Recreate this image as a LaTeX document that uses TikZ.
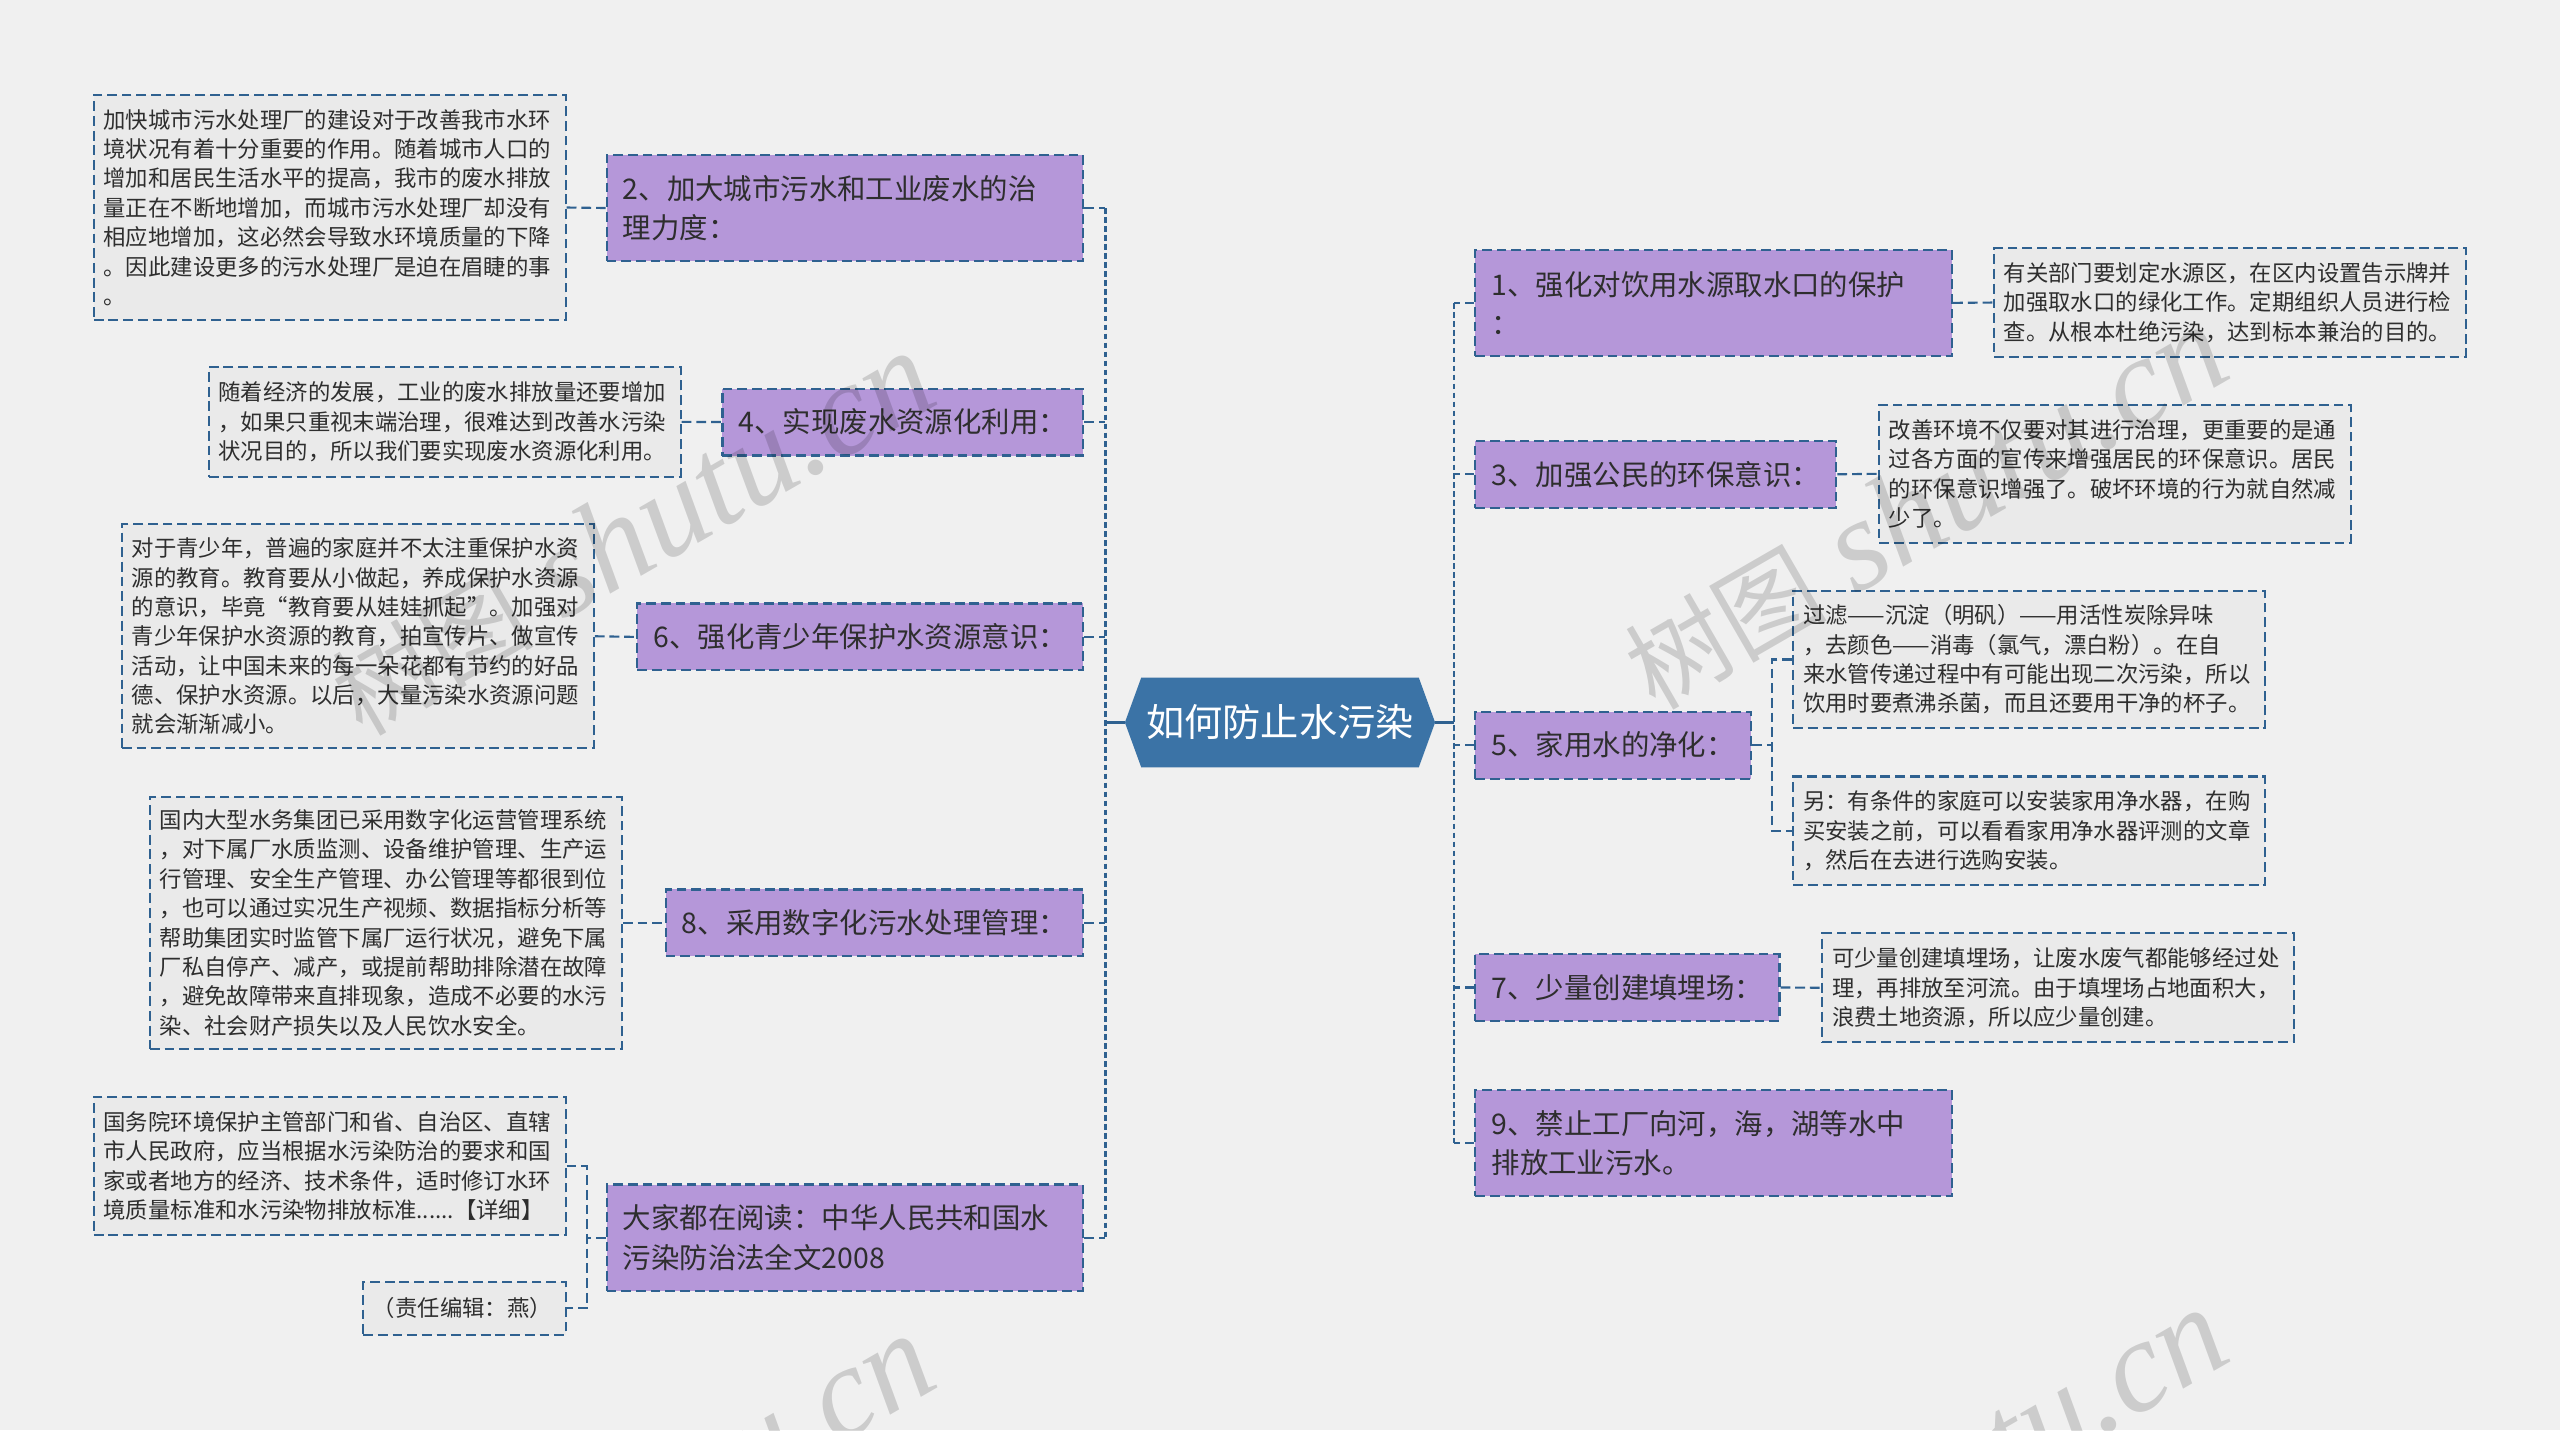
\documentclass[tikz,border=0pt]{standalone}
\usepackage{fontspec}
\newfontfamily\cjk{Noto Sans CJK SC}
\newfontfamily\wmlatin{Liberation Serif}
\usetikzlibrary{shapes.symbols}
\definecolor{bgcol}{HTML}{F0F0F0}
\definecolor{rootblue}{HTML}{3B73A6}
\definecolor{branchpurple}{HTML}{B597D9}
\definecolor{leafgray}{HTML}{EAEAEA}
\definecolor{edgeblue}{HTML}{2F6190}
\definecolor{textgray}{HTML}{2E2E2E}
\tikzset{
    root/.style={signal, signal to=east and west, signal pointer angle=140, fill=rootblue, text=white,
        font=\cjk\fontsize{23.4}{28}\selectfont, minimum width=190pt, minimum height=55pt, inner sep=0pt}, % centre hexagon
    branch/.style={draw=edgeblue, line width=1.3pt, dash pattern=on 6pt off 3pt, fill=branchpurple, text=textgray,
        font=\cjk\fontsize{17.4}{24}\selectfont, inner xsep=10pt, inner ysep=4pt, align=left, minimum height=41pt},
    branch2/.style={branch, text width=272pt, minimum height=65pt}, % two-line topics
    leaf/.style={draw=edgeblue, line width=1.3pt, dash pattern=on 6pt off 3pt, fill=leafgray, text=textgray,
        font=\cjk\fontsize{13.7}{18}\selectfont, inner xsep=6pt, inner ysep=4pt, text width=277pt, align=left,
        minimum height=#1},
    link/.style={edgeblue, line width=1.3pt, dash pattern=on 6pt off 3pt},
    trunk/.style={edgeblue, line width=1.6pt, dash pattern=on 3.5pt off 2pt},
    stem/.style={edgeblue, line width=1.5pt},
    watermark/.style={text=black, opacity=0.15, font=\cjk\fontsize{62}{62}\selectfont, inner sep=0pt},
}
\newcommand{\wmtext}{树图\hspace{18pt}{\wmlatin\itshape\fontsize{80}{80}\selectfont shutu.cn}}

\begin{document}
\begin{tikzpicture}[x=1pt, y=-1pt]
\fill[bgcol] (0,0) rectangle (1568,876);
\useasboundingbox (0,0) rectangle (1568,876);

% centre
\node[root] (root) at (784,442.5) {如何防止水污染};
\coordinate (lt) at (677,442.5);
\coordinate (rt) at (890.5,442.5);

% left topics
\node[branch2, anchor=east] (b2) at (664.2,127.4) {2、加大城市污水和工业废水的治\\理力度：};
\node[branch, anchor=east] (b4) at (664.2,258.5) {4、实现废水资源化利用：};
\node[branch, anchor=east] (b6) at (664.2,390.1) {6、强化青少年保护水资源意识：};
\node[branch, anchor=east] (b8) at (664.2,565.3) {8、采用数字化污水处理管理：};
\node[branch2, anchor=east] (br) at (664.2,758) {大家都在阅读：中华人民共和国水\\污染防治法全文2008};

% right topics
\node[branch2, anchor=west] (b1) at (903,185.5) {1、强化对饮用水源取水口的保护\\：};
\node[branch, anchor=west] (b3) at (903,290.5) {3、加强公民的环保意识：};
\node[branch, anchor=west] (b5) at (903,456.4) {5、家用水的净化：};
\node[branch, anchor=west] (b7) at (903,604.8) {7、少量创建填埋场：};
\node[branch2, anchor=west] (b9) at (903,700) {9、禁止工厂向河，海，湖等水中\\排放工业污水。};

% left details
\node[leaf=138pt, anchor=east] (l2) at (347.1,127.1) {加快城市污水处理厂的建设对于改善我市水环\\境状况有着十分重要的作用。随着城市人口的\\增加和居民生活水平的提高，我市的废水排放\\量正在不断地增加，而城市污水处理厂却没有\\相应地增加，这必然会导致水环境质量的下降\\。因此建设更多的污水处理厂是迫在眉睫的事\\。};
\node[leaf=67pt, anchor=east] (l4) at (417.5,258.4) {随着经济的发展，工业的废水排放量还要增加\\，如果只重视末端治理，很难达到改善水污染\\状况目的，所以我们要实现废水资源化利用。};
\node[leaf=137pt, anchor=east] (l6) at (364.3,389.7) {对于青少年，普遍的家庭并不太注重保护水资\\源的教育。教育要从小做起，养成保护水资源\\的意识，毕竟“教育要从娃娃抓起”。加强对\\青少年保护水资源的教育，拍宣传片、做宣传\\活动，让中国未来的每一朵花都有节约的好品\\德、保护水资源。以后，大量污染水资源问题\\就会渐渐减小。};
\node[leaf=154.7pt, anchor=east] (l8) at (381.5,565.3) {国内大型水务集团已采用数字化运营管理系统\\，对下属厂水质监测、设备维护管理、生产运\\行管理、安全生产管理、办公管理等都很到位\\，也可以通过实况生产视频、数据指标分析等\\帮助集团实时监管下属厂运行状况，避免下属\\厂私自停产、减产，或提前帮助排除潜在故障\\，避免故障带来直排现象，造成不必要的水污\\染、社会财产损失以及人民饮水安全。};
\node[leaf=84.3pt, anchor=east] (lr1) at (347.1,714.2) {国务院环境保护主管部门和省、自治区、直辖\\市人民政府，应当根据水污染防治的要求和国\\家或者地方的经济、技术条件，适时修订水环\\境质量标准和水污染物排放标准......【详细】};
\node[leaf=32.2pt, text width=112pt, anchor=east] (lr2) at (347.1,801.4) {（责任编辑：燕）};

% right details
\node[leaf=66.3pt, anchor=west] (r1) at (1220.7,185.3) {有关部门要划定水源区，在区内设置告示牌并\\加强取水口的绿化工作。定期组织人员进行检\\查。从根本杜绝污染，达到标本兼治的目的。};
\node[leaf=84.3pt, anchor=west] (r3) at (1150.3,290.2) {改善环境不仅要对其进行治理，更重要的是通\\过各方面的宣传来增强居民的环保意识。居民\\的环保意识增强了。破坏环境的行为就自然减\\少了。};
\node[leaf=84.3pt, anchor=west] (r5a) at (1097.7,403.9) {过滤——沉淀（明矾）——用活性炭除异味\\，去颜色——消毒（氯气，漂白粉）。在自\\来水管传递过程中有可能出现二次污染，所以\\饮用时要煮沸杀菌，而且还要用干净的杯子。};
\node[leaf=66.4pt, anchor=west] (r5b) at (1097.7,508.8) {另：有条件的家庭可以安装家用净水器，在购\\买安装之前，可以看看家用净水器评测的文章\\，然后在去进行选购安装。};
\node[leaf=66.7pt, anchor=west] (r7) at (1115.5,605) {可少量创建填埋场，让废水废气都能够经过处\\理，再排放至河流。由于填埋场占地面积大，\\浪费土地资源，所以应少量创建。};

% connectors
\draw[stem] (root.west) -- (lt);
\draw[stem] (root.east) -- (rt);
\draw[trunk] (b2.east -| lt) -- (br.east -| lt);
\draw[trunk] (b1.west -| rt) -- (b9.west -| rt);
\foreach \b in {b2,b4,b6,b8,br}
    \draw[link] (\b.east) -- (\b.east -| lt);
\foreach \b in {b1,b3,b5,b7,b9}
    \draw[link] (\b.west) -- (\b.west -| rt);
\draw[link] (l2.east) -- (b2.west);
\draw[link] (l4.east) -- (b4.west);
\draw[link] (l6.east) -- (b6.west);
\draw[link] (l8.east) -- (b8.west);
\draw[link] (b1.east) -- (r1.west);
\draw[link] (b3.east) -- (r3.west);
\draw[link] (b7.east) -- (r7.west);
\coordinate (lk) at (359.5,758);
\coordinate (rk) at (1085.3,456.4);
\draw[link] (br.west) -- (lk);
\draw[link] (lr1.east) -- (lr1.east -| lk) -- (lr2.east -| lk) -- (lr2.east);
\draw[link] (b5.east) -- (rk);
\draw[link] (r5a.west) -- (r5a.west -| rk) -- (r5b.west -| rk) -- (r5b.west);

% watermarks
\begin{scope}
\clip (0,0) rectangle (1568,876);
\node[watermark, rotate=30] (wm1) at (387,327) {\wmtext};
\node[watermark, rotate=30] (wm2) at (1179,311) {\wmtext};
\node[watermark, rotate=30] (wm3) at (387,929) {\wmtext};
\node[watermark, rotate=30] (wm4) at (1179,913) {\wmtext};
\end{scope}
\end{tikzpicture}
\end{document}
